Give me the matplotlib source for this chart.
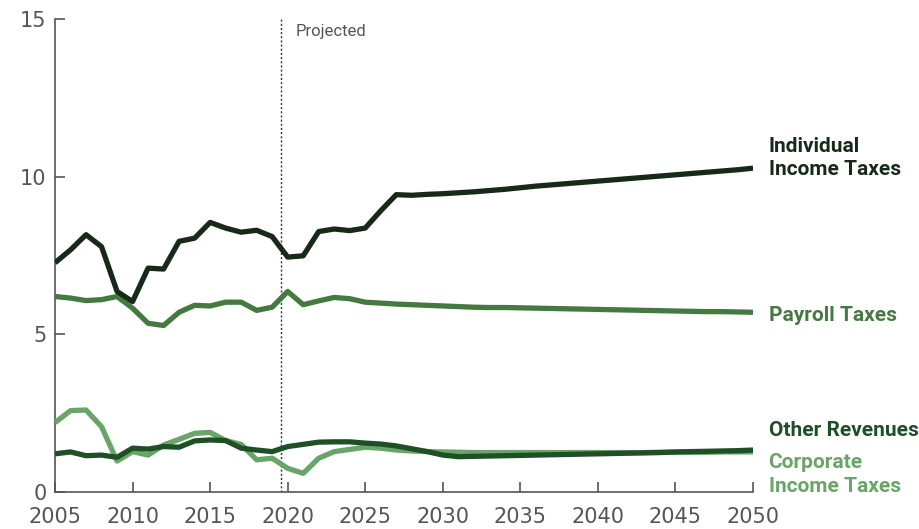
import numpy as np
import matplotlib
matplotlib.use('Agg')
import matplotlib.pyplot as plt

years = list(range(2005, 2051))

individual = [7.27, 7.68, 8.16, 7.78, 6.36, 6.04, 7.10, 7.07, 7.95, 8.05,
              8.55, 8.37, 8.24, 8.30, 8.10, 7.45, 7.49, 8.26, 8.34, 8.29,
              8.37, 8.92, 9.43, 9.41, 9.44, 9.46, 9.49, 9.52, 9.56, 9.60,
              9.65, 9.70, 9.74, 9.78, 9.82, 9.86, 9.90, 9.94, 9.98, 10.02,
              10.06, 10.10, 10.14, 10.18, 10.22, 10.27]

payroll = [6.20, 6.15, 6.07, 6.10, 6.20, 5.83, 5.35, 5.28, 5.70, 5.92,
           5.90, 6.02, 6.02, 5.76, 5.86, 6.36, 5.94, 6.06, 6.17, 6.13,
           6.02, 5.99, 5.96, 5.94, 5.92, 5.90, 5.88, 5.86, 5.85, 5.85,
           5.84, 5.83, 5.82, 5.81, 5.80, 5.79, 5.78, 5.77, 5.76, 5.75,
           5.74, 5.73, 5.72, 5.72, 5.71, 5.70]

corporate = [2.20, 2.58, 2.60, 2.07, 0.98, 1.28, 1.17, 1.49, 1.67, 1.86,
             1.89, 1.63, 1.51, 1.02, 1.07, 0.75, 0.59, 1.07, 1.28, 1.35,
             1.42, 1.39, 1.33, 1.30, 1.28, 1.27, 1.26, 1.25, 1.25, 1.25,
             1.25, 1.25, 1.25, 1.25, 1.25, 1.25, 1.25, 1.25, 1.25, 1.26,
             1.26, 1.26, 1.26, 1.27, 1.27, 1.27]

other = [1.21, 1.27, 1.15, 1.17, 1.10, 1.39, 1.36, 1.44, 1.42, 1.62,
         1.65, 1.63, 1.39, 1.33, 1.28, 1.44, 1.51, 1.58, 1.59, 1.59,
         1.55, 1.52, 1.46, 1.37, 1.28, 1.17, 1.12, 1.13, 1.14, 1.15,
         1.16, 1.17, 1.18, 1.19, 1.20, 1.21, 1.22, 1.23, 1.24, 1.25,
         1.27, 1.28, 1.29, 1.30, 1.31, 1.33]

projected_start = 2019.6

C_IND = '#172a19'
C_PAY = '#44793f'
C_OTH = '#1e4f27'
C_CORP = '#69a566'
GREY = '#555555'

plt.rcParams['font.family'] = ['Liberation Sans Narrow', 'DejaVu Sans']

fig = plt.figure(figsize=(9.2, 5.29), dpi=100)
ax = fig.add_axes([0.0598, 0.070, 0.7587, 0.894])

lw = 3.8
ax.plot(years, corporate, color=C_CORP, lw=lw, solid_capstyle='butt', zorder=3)
ax.plot(years, other, color=C_OTH, lw=lw, solid_capstyle='butt', zorder=4)
ax.plot(years, payroll, color=C_PAY, lw=lw, solid_capstyle='butt', zorder=3)
ax.plot(years, individual, color=C_IND, lw=lw, solid_capstyle='butt', zorder=3)

# projection marker
ax.axvline(projected_start, color='#333333', lw=1, ls=(0, (1.5, 1.5)), zorder=2)
ax.text(projected_start + 0.9, 14.6, 'Projected', fontsize=12, color=GREY,
        family=['Roboto', 'DejaVu Sans'], va='center', ha='left')

ax.set_xlim(2005, 2050)
ax.set_ylim(0, 15)
ax.set_xticks(range(2005, 2051, 5))
ax.set_yticks([0, 5, 10, 15])

for s in ['top', 'right']:
    ax.spines[s].set_visible(False)
for s in ['left', 'bottom']:
    ax.spines[s].set_color(GREY)
    ax.spines[s].set_linewidth(1.2)

ax.tick_params(axis='both', direction='in', length=7, width=1.2, color=GREY,
               labelcolor=GREY, labelsize=15)
ax.tick_params(axis='x', pad=11)
ax.tick_params(axis='y', pad=6)

# series labels at right end
lab = dict(fontsize=15, fontweight='bold', family=['Roboto', 'DejaVu Sans'],
           transform=ax.transData, clip_on=False, ha='left', va='center')
xl = 2051.0
ax.text(xl, 10.6, 'Individual\nIncome Taxes', color=C_IND, linespacing=1.3, **lab)
ax.text(xl, 5.59, 'Payroll Taxes', color=C_PAY, **lab)
ax.text(xl, 1.94, 'Other Revenues', color=C_OTH, **lab)
ax.text(xl, 0.56, 'Corporate\nIncome Taxes', color=C_CORP, linespacing=1.3, **lab)

fig.savefig('out.png', dpi=100)
